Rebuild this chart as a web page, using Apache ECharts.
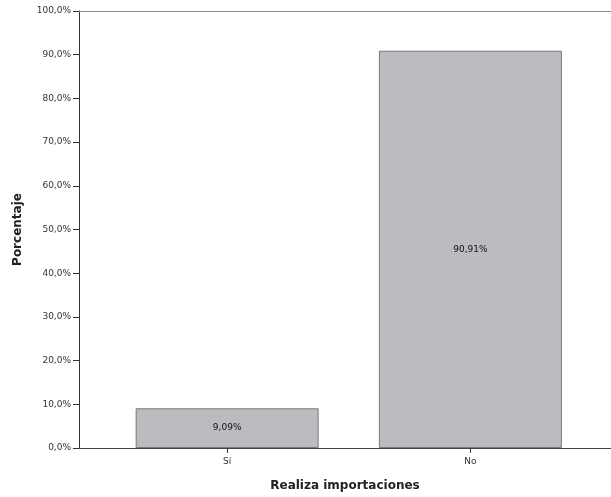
<!DOCTYPE html>
<html>
<head>
<meta charset="utf-8">
<script src="https://cdn.jsdelivr.net/npm/echarts@6/dist/echarts.min.js"></script>
<style>
html,body{margin:0;padding:0;background:#fff;}
#c{width:611px;height:497px;}
</style>
</head>
<body>
<div id="c"></div>
<script>
const categories = ['Sí', 'No'];
const percentages = [9.09, 90.91];
const barLabels = ['9,09%', '90,91%'];
const yTickValues = [0, 10, 20, 30, 40, 50, 60, 70, 80, 90, 100];

const FONT = '"DejaVu Sans", "Liberation Sans", Arial, sans-serif';
const chart = echarts.init(document.getElementById('c'), null, {renderer: 'canvas'});

const positions = categories.map((c, i) => i + 1);
const barData = positions.map((p, i) => [p, percentages[i]]);

chart.setOption({
  animation: false,
  backgroundColor: '#ffffff',
  grid: {left: 79, right: 0, top: 11, bottom: 42, containLabel: false},
  xAxis: [{
    type: 'value',
    min: 0.391,
    max: 2.578,
    name: 'Realiza importaciones',
    nameLocation: 'middle',
    nameGap: 32,
    nameTextStyle: {fontFamily: FONT, fontSize: 12, fontWeight: 'bold', color: '#222'},
    axisLine: {show: true, onZero: false, lineStyle: {color: '#444', width: 1}},
    axisTick: {show: true, customValues: positions, length: 5, lineStyle: {color: '#333'}},
    axisLabel: {
      customValues: positions,
      formatter: v => categories[Math.round(v) - 1] || '',
      fontFamily: FONT, fontSize: 9, color: '#333', margin: 9
    },
    splitLine: {show: false}
  }, {
    type: 'value',
    position: 'top',
    min: 0.391,
    max: 2.578,
    axisLine: {show: true, onZero: false, lineStyle: {color: '#888', width: 1}},
    axisTick: {show: false},
    axisLabel: {show: false},
    splitLine: {show: false}
  }],
  yAxis: {
    type: 'value',
    min: 0,
    max: 100,
    interval: 10,
    name: 'Porcentaje',
    nameLocation: 'middle',
    nameGap: 55,
    nameRotate: 90,
    nameTextStyle: {fontFamily: FONT, fontSize: 12, fontWeight: 'bold', color: '#222'},
    axisLine: {show: true, lineStyle: {color: '#333', width: 1}},
    axisTick: {show: true, length: 6, lineStyle: {color: '#333'}},
    axisLabel: {
      formatter: v => yTickValues.includes(v) ? v.toFixed(1).replace('.', ',') + '%' : '',
      fontFamily: FONT, fontSize: 9, color: '#333', margin: 8
    },
    splitLine: {show: false}
  },
  series: [{
    type: 'bar',
    data: barData,
    barWidth: 183,
    itemStyle: {color: '#bbbcc0', borderColor: '#7a7a7a', borderWidth: 1},
    label: {
      show: true,
      position: 'inside',
      formatter: p => barLabels[p.dataIndex],
      fontFamily: FONT, fontSize: 9, color: '#111'
    }
  }]
});
</script>
</body>
</html>
